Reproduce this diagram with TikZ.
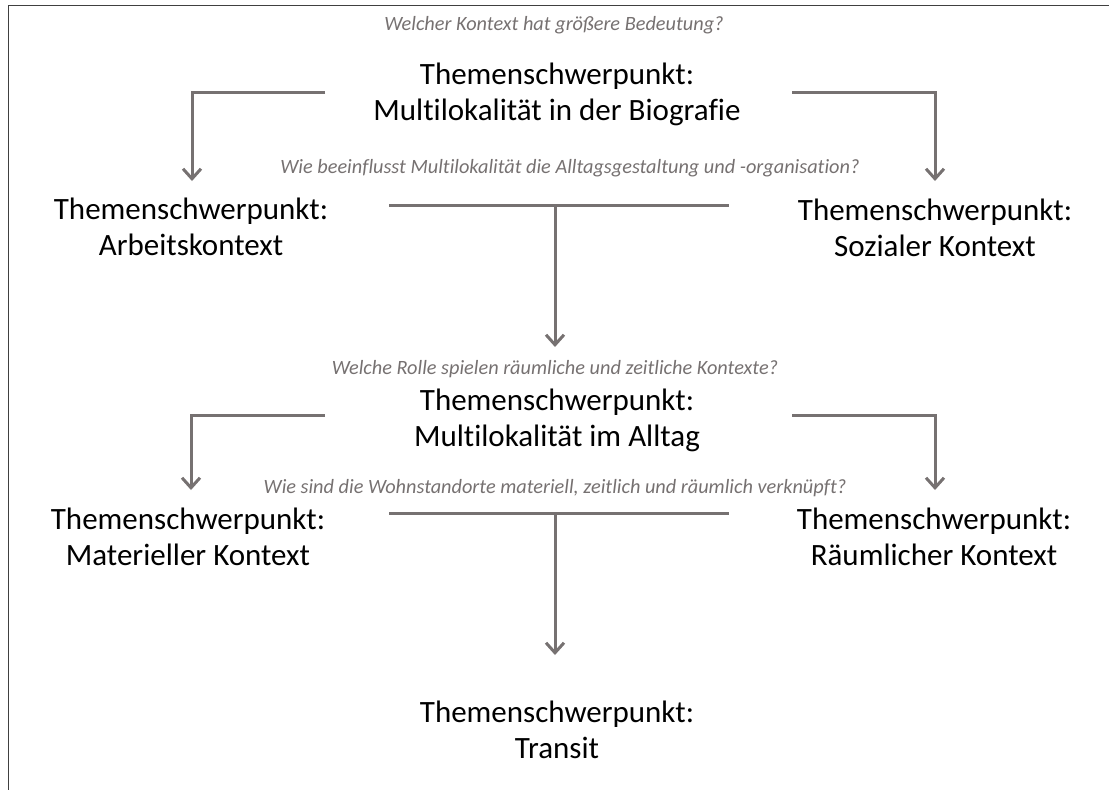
\documentclass[tikz,border=0pt]{standalone}
\usepackage{fontspec}
\setmainfont{Carlito}[Ligatures=NoCommon]
\usetikzlibrary{arrows.meta}
\definecolor{arrowgray}{RGB}{118,113,113}
\definecolor{framegray}{RGB}{64,64,64}
\tikzset{
  topic/.style={align=center, inner sep=0pt, text=black, font=\fontsize{31}{36}\selectfont},
  question/.style={inner sep=0pt, anchor=base, text=arrowgray, font=\fontsize{20.3}{24}\selectfont\itshape},
  flow/.style={draw=arrowgray, line width=3pt, line cap=butt, line join=miter},
  flowarrow/.style={flow, -{Straight Barb[length=10pt,width=18pt]}},
}
\newcommand{\twol}[2]{\strut #1\\\strut #2}
\begin{document}
\begin{tikzpicture}[x=1pt,y=-1pt]
\useasboundingbox (0,0) rectangle (1109,790);
\draw[framegray, line width=1pt] (8,790) -- (8,5) -- (1109,5);

% questions
\node[question] (q1) at (554,30) {Welcher Kontext hat größere Bedeutung?};
\node[question] (q2) at (570,173) {Wie beeinflusst Multilokalität die Alltagsgestaltung und -organisation?};
\node[question] (q3) at (555,374) {Welche Rolle spielen räumliche und zeitliche Kontexte?};
\node[question] (q4) at (555,493) {Wie sind die Wohnstandorte materiell, zeitlich und räumlich verknüpft?};

% topics
\node[topic] (bio) at (557,95) {\twol{Themenschwerpunkt:}{Multilokalität in der Biografie}};
\node[topic] (arbeit) at (191,230) {\twol{Themenschwerpunkt:}{Arbeitskontext}};
\node[topic] (sozial) at (935,231) {\twol{Themenschwerpunkt:}{Sozialer Kontext}};
\node[topic] (alltag) at (557,421) {\twol{Themenschwerpunkt:}{Multilokalität im Alltag}};
\node[topic] (material) at (188,540) {\twol{Themenschwerpunkt:}{Materieller Kontext}};
\node[topic] (raum) at (934,540) {\twol{Themenschwerpunkt:}{Räumlicher Kontext}};
\node[topic] (transit) at (557,733) {\twol{Themenschwerpunkt:}{Transit}};

% connector points
\coordinate (a1s) at (325,92);
\coordinate (a1c) at (192,92);
\coordinate (a1e) at (192,181);
\coordinate (a2s) at (792,92);
\coordinate (a2c) at (935,92);
\coordinate (a2e) at (935,181);
\coordinate (t1l) at (389,205);
\coordinate (t1r) at (729,205);
\coordinate (t1m) at (555,205);
\coordinate (t1e) at (555,347);
\coordinate (a3s) at (325,415);
\coordinate (a3c) at (191,415);
\coordinate (a3e) at (191,490);
\coordinate (a4s) at (792,415);
\coordinate (a4c) at (935,415);
\coordinate (a4e) at (935,490);
\coordinate (t2l) at (389,513);
\coordinate (t2r) at (729,513);
\coordinate (t2m) at (555,513);
\coordinate (t2e) at (555,655);

\draw[flowarrow] (a1s) -- (a1c) -- (a1e);
\draw[flowarrow] (a2s) -- (a2c) -- (a2e);
\draw[flow] (t1l) -- (t1r);
\draw[flowarrow] (t1m) -- (t1e);
\draw[flowarrow] (a3s) -- (a3c) -- (a3e);
\draw[flowarrow] (a4s) -- (a4c) -- (a4e);
\draw[flow] (t2l) -- (t2r);
\draw[flowarrow] (t2m) -- (t2e);
\end{tikzpicture}
\end{document}
